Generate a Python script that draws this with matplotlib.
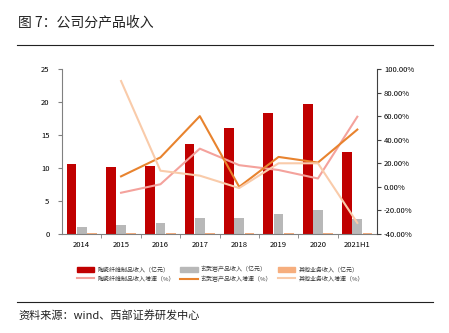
import matplotlib
matplotlib.use('Agg')
import matplotlib.pyplot as plt
import numpy as np
from matplotlib.lines import Line2D

plt.rcParams['font.family'] = ['Noto Sans CJK SC', 'DejaVu Sans']

years = ['2014', '2015', '2016', '2017', '2018', '2019', '2020', '2021H1']
ceramic_rev = [10.6, 10.1, 10.3, 13.6, 16.1, 18.4, 19.7, 12.4]
basalt_rev = [1.1, 1.3, 1.6, 2.5, 2.5, 3.0, 3.7, 2.3]
other_rev = [0.12, 0.15, 0.18, 0.2, 0.15, 0.12, 0.1, 0.1]
ceramic_g = [np.nan, -5.0, 2.2, 32.4, 18.4, 14.3, 7.1, 59.5]
basalt_g = [np.nan, 8.9, 25.0, 60.0, 0.0, 25.4, 20.6, 48.6]
other_g = [np.nan, 89.8, 13.7, 9.5, -1.0, 20.0, 20.0, -30.6]

c_red = '#C00000'
c_grey = '#B8B8B8'
c_orb = '#F6AE7E'
c_pink = '#F4A29C'
c_org = '#E8832E'
c_peach = '#F9CBAA'

fig = plt.figure(figsize=(4.49, 3.33), dpi=100)
W, H = 449, 333
ax = fig.add_axes([62 / W, (H - 234) / H, (377 - 62) / W, (234 - 69) / H])
x = np.arange(len(years))
w = 0.26
ax.bar(x - w, ceramic_rev, w * 0.95, color=c_red, zorder=2)
ax.bar(x, basalt_rev, w * 0.95, color=c_grey, zorder=2)
ax.bar(x + w, other_rev, w * 0.95, color=c_orb, zorder=2)
ax.set_xlim(-0.5, len(years) - 0.5)
ax.set_ylim(0, 25)
ax.set_yticks([0, 5, 10, 15, 20, 25])
ax.set_xticks(x)
ax.set_xticklabels(years)
ax.set_xticks(np.arange(0.5, len(years) - 1, 1), minor=True)
ax.tick_params(axis='x', which='major', length=0, labelsize=5.5, pad=5)
ax.tick_params(axis='x', which='minor', length=3, color='#808080')
ax.tick_params(axis='y', labelsize=5.5, length=3, color='#808080', pad=6)
for s in ['top', 'right']:
    ax.spines[s].set_visible(False)
ax.spines['left'].set_color('#808080')
ax.spines['bottom'].set_color('#808080')

ax2 = ax.twinx()
ax2.plot(x, ceramic_g, color=c_pink, lw=1.5, zorder=3)
ax2.plot(x, basalt_g, color=c_org, lw=1.5, zorder=3)
ax2.plot(x, other_g, color=c_peach, lw=1.5, zorder=3)
ax2.set_ylim(-40, 100)
ax2.set_yticks(np.arange(-40, 101, 20))
ax2.set_yticklabels(['%.2f%%' % v for v in np.arange(-40, 101, 20)])
ax2.tick_params(axis='y', labelsize=5.5, length=3, color='#404040', pad=2)
for s in ['top', 'left', 'bottom']:
    ax2.spines[s].set_visible(False)
ax2.spines['right'].set_color('#404040')

handles = [
    plt.Rectangle((0, 0), 1, 1, color=c_red),
    Line2D([], [], color=c_pink, lw=1.5),
    plt.Rectangle((0, 0), 1, 1, color=c_grey),
    Line2D([], [], color=c_org, lw=1.5),
    plt.Rectangle((0, 0), 1, 1, color=c_orb),
    Line2D([], [], color=c_peach, lw=1.5),
]
labels = ['陶瓷纤维制品收入（亿元）', '陶瓷纤维制品收入增速（%）',
          '玄武岩产品收入（亿元）', '玄武岩产品收入增速（%）',
          '其他业务收入（亿元）', '其他业务收入增速（%）']
fig.legend(handles, labels, ncol=3, frameon=False, fontsize=4.3,
           loc='upper left', bbox_to_anchor=(77 / W, (H - 266) / H),
           handlelength=2.9, handleheight=0.9, columnspacing=0.95,
           labelspacing=0.55, handletextpad=0.5, borderaxespad=0,
           borderpad=0, labelcolor='#333333')

fig.text(18 / W, (H - 22) / H, '图 7：公司分产品收入', fontsize=10, va='center', ha='left', color='#222222')
fig.add_artist(Line2D([17 / W, 433 / W], [(H - 45) / H] * 2, color='#222222', lw=0.8))
fig.add_artist(Line2D([17 / W, 433 / W], [(H - 302) / H] * 2, color='#222222', lw=0.8))
fig.text(18 / W, (H - 315) / H, '资料来源：wind、西部证券研发中心', fontsize=8, va='center', ha='left', color='#222222')

fig.savefig('out.png', dpi=100)
